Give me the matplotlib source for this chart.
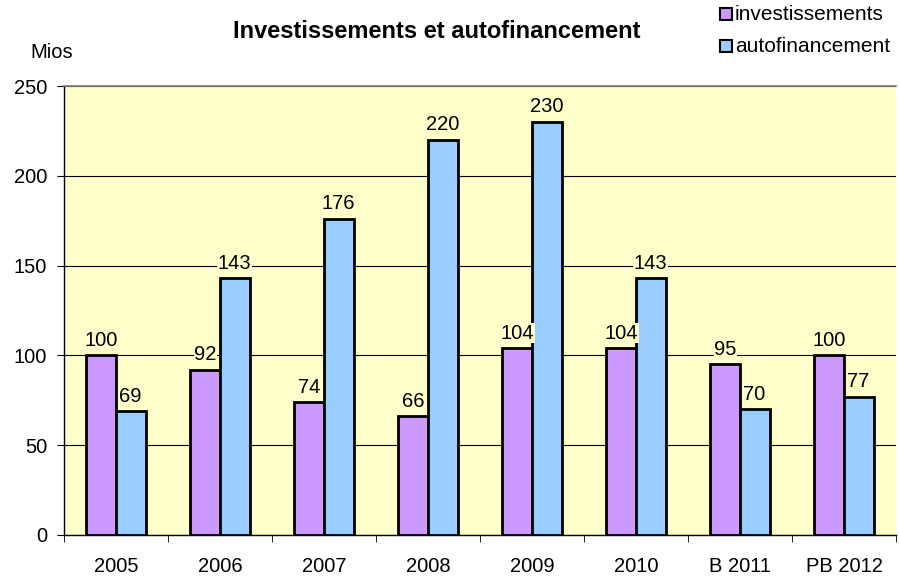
import matplotlib
matplotlib.use("Agg")
import matplotlib.pyplot as plt
import numpy as np
from matplotlib.patches import Rectangle

categories = ["2005", "2006", "2007", "2008", "2009", "2010", "B 2011", "PB 2012"]
investissements = [100, 92, 74, 66, 104, 104, 95, 100]
autofinancement = [69, 143, 176, 220, 230, 143, 70, 77]
yticks = [0, 50, 100, 150, 200, 250]

plt.rcParams['font.family'] = ['Liberation Sans', 'DejaVu Sans']

fs = 14.5
fig = plt.figure(figsize=(8.99, 5.80), dpi=100)
ax = fig.add_axes([64/899, 45/580, 832/899, 449/580])
bg = "#FFFFCC"
ax.set_facecolor(bg)

x = np.arange(len(categories))
w = 0.28
c1 = "#CC99FF"
c2 = "#99CCFF"
ax.bar(x - w/2 - 0.004, investissements, w, color=c1, edgecolor="black", linewidth=2, zorder=3)
ax.bar(x + w/2 + 0.004, autofinancement, w, color=c2, edgecolor="black", linewidth=2, zorder=3)

for xi, v in zip(x - w/2, investissements):
    ax.annotate(str(v), (xi, v), xytext=(0, 4), textcoords="offset points", ha="center", va="bottom",
                fontsize=fs, zorder=5, bbox=dict(facecolor=bg, edgecolor="none", pad=0.3))
for xi, v in zip(x + w/2, autofinancement):
    ax.annotate(str(v), (xi, v), xytext=(0, 4), textcoords="offset points", ha="center", va="bottom",
                fontsize=fs, zorder=5, bbox=dict(facecolor=bg, edgecolor="none", pad=0.3))

ax.set_xlim(-0.5, len(categories) - 0.5)
ax.set_ylim(0, 250)
ax.set_yticks(yticks)
ax.set_yticklabels([str(t) for t in yticks], fontsize=fs)
ax.yaxis.grid(True, color="black", linewidth=0.8, zorder=1)
ax.set_axisbelow(True)

ax.set_xticks(x)
ax.set_xticklabels(categories, fontsize=fs)
ax.tick_params(axis="x", length=0, pad=16)
ax.set_xticks(np.arange(-0.5, len(categories)), minor=True)
ax.tick_params(axis="x", which="minor", length=5, color="black", direction="out")
ax.tick_params(axis="y", length=5, color="black", direction="out", pad=7)

for s in ["left", "bottom"]:
    ax.spines[s].set_color("black")
    ax.spines[s].set_linewidth(1)
ax.spines["top"].set_color("#808080")
ax.spines["top"].set_linewidth(1.2)
ax.spines["right"].set_visible(False)

fig.text(437/899, 1 - 31/580, "Investissements et autofinancement", ha="center", va="center",
         fontsize=17, fontweight="bold")
fig.text(52/899, 1 - 52/580, "Mios", ha="center", va="center", fontsize=fs)

# legend
for i, (lab, col) in enumerate([("investissements", c1), ("autofinancement", c2)]):
    yc = 14 + i * 32
    fig.patches.append(Rectangle((720/899, 1 - (yc + 6)/580), 12/899, 12/580,
                                 transform=fig.transFigure, facecolor=col, edgecolor="black",
                                 linewidth=1.5))
    fig.text(735/899, 1 - yc/580, lab, ha="left", va="center", fontsize=15)

fig.savefig("out.png", dpi=100)
